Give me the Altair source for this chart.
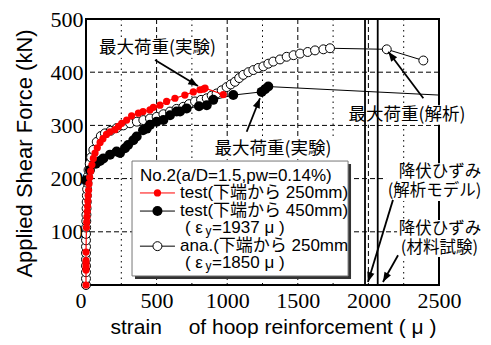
import math
import altair as alt
import pandas as pd

# ---------------- data (strain in micro, load in kN) ----------------
red_x = [0, 0, 0, 0, 0, 0, 3, 5, 7, 9, 11, 13, 15, 18, 21, 26, 33, 42, 52, 64, 80, 100, 120, 145,
         170, 205, 230, 253, 288, 323, 371, 404, 453, 477, 524, 571, 630, 700, 760, 807, 831, 843, 972]
red_y = [0, 28, 34, 40, 46, 62, 108, 118, 128, 138, 148, 158, 168, 178, 190, 202, 214, 226, 238, 248,
         258, 268, 275, 283, 288, 292, 298, 304, 310, 318, 323, 326, 329, 334, 338, 345, 351, 357, 363,
         367, 368, 370, 358]

black_x = [0, 28, 70, 99, 123, 170, 217, 241, 276, 298, 335, 359, 404, 430, 453, 500, 548, 595, 642,
           666, 713, 800, 855, 901, 1043, 1244, 1268, 1291, 2500]
black_y = [197, 216, 228, 233, 238, 245, 251, 248, 257, 263, 272, 279, 291, 294, 301, 307, 310, 319,
           326, 326, 332, 336, 338, 348, 357, 363, 368, 373, 357]

white_x = [0, 0, 0, 0, 0, 0, 0, 0, 0, 1, 2, 3, 4, 5, 6, 8, 10, 13, 18, 26, 36, 52, 76, 105, 134, 175,
           217, 265, 312, 360, 406, 453, 500, 548, 595, 641, 689, 730, 772, 815, 855, 890, 925, 961,
           996, 1025, 1055, 1085, 1114, 1150, 1185, 1220, 1256, 1291, 1326, 1374, 1421, 1470, 1516,
           1570, 1622, 1681, 1728, 2130, 2389]
white_y = [0, 12, 24, 36, 48, 60, 72, 84, 96, 108, 120, 132, 144, 156, 168, 180, 192, 204, 216, 228,
           240, 254, 269, 280, 285, 290, 295, 300, 304, 307, 310, 313, 316, 321, 326, 331, 335, 340,
           345, 348, 351, 356, 360, 366, 372, 377, 382, 389, 395, 400, 404, 408, 411, 416, 420, 424,
           429, 432, 435, 438, 441, 443, 445, 443, 422]

x_ticks = [0, 500, 1000, 1500, 2000, 2500]
y_ticks = [0, 100, 200, 300, 400, 500]
grid_major_x = [500, 1000, 1500, 2000]
grid_minor_x = [250, 750, 1250, 1750, 2250]
grid_y = [100, 200, 300, 400]
yield_x = [1976, 2066]

# annotations
ann_text = ["最大荷重(実験)", "最大荷重(実験)", "最大荷重(解析)", "降伏ひずみ", "(解析モデル)", "降伏ひずみ", "(材料試験)"]
ann_x = [506, 1324, 2273, 2507, 2468, 2507, 2503]
ann_y = [445.5, 255.6, 319.5, 211.5, 176.0, 104.4, 69.0]
ann_size = [17.5, 17.5, 17.5, 16.5, 16.5, 16.5, 16.5]

bg_x = [64, 885, 1834, 2125, 2203]
bg_x2 = [949, 1771, 2720, 2819, 2819]
bg_y = [464, 274, 338, 229, 122]
bg_y2 = [427, 237, 301, 158, 52.6]

arr_x = [489, 1138, 2389, 2174, 2210]
arr_y = [423, 288, 351, 160, 56]
arr_x2 = [793, 1232, 2141, 1997, 2103]
arr_y2 = [374, 351, 438.5, 5.6, 5.6]

# legend
leg_box = dict(x=326, x2=1856, y=233, y2=17)
leg_shadow = dict(x=347, x2=1877, y=227.4, y2=11.3)
leg_row_y = [173, 139, 73]
leg_line_x = [382, 630]
leg_mark_x = 506
leg_texts = ["No.2(a/D=1.5,pw=0.14%)", "test(下端から 250mm)", "test(下端から 450mm)",
             "ana.(下端から 250mm", "( ε", "=1937 μ )", "( ε", "=1850 μ )"]
leg_text_x = [382, 666, 666, 666, 701, 892, 701, 892]
leg_text_y = [205, 173, 139, 73, 107, 107, 41.4, 41.4]
leg_sub_text = ["y", "y"]
leg_sub_x = [846, 846]
leg_sub_y = [101, 35.5]

x_title = "strain　 of hoop reinforcement ( μ )"
y_title = "Applied Shear Force (kN)"

# ---------------- styling ----------------
SANS = "Liberation Sans, Arial, Noto Sans CJK JP, sans-serif"
CJK = "Noto Sans CJK JP"
SERIF = "Liberation Serif, Times New Roman, DejaVu Serif, serif"
PX_X = 353 / 2500.0
PX_Y = 266 / 500.0

xscale = alt.Scale(domain=[0, 2500], nice=False, zero=False)
yscale = alt.Scale(domain=[0, 500], nice=False, zero=False)

xaxis = alt.Axis(values=x_ticks, grid=False, ticks=False, domain=False, labelFont=SERIF,
                 labelFontSize=22, labelColor="black", labelPadding=5, labelFlush=False,
                 labelOverlap=False, format="d",
                 labelAlign=alt.condition("datum.value == 0", alt.value("right"), alt.value("center")),
                 title=x_title, titleFont=SANS, titleFontSize=21, titleFontWeight="normal",
                 titleColor="black", titleX=187, titleY=42, titleAlign="center",
                 titleBaseline="middle")
yaxis = alt.Axis(values=y_ticks, grid=False, ticks=False, domain=False, labelFont=SERIF,
                 labelFontSize=22, labelColor="black", labelPadding=3, labelFlush=False,
                 labelOverlap=False, format="d", labelExpr="datum.value == 0 ? '' : datum.label",
                 title=y_title, titleFont=SANS, titleFontSize=22, titleFontWeight="normal",
                 titleColor="black", titleAngle=270, titleX=-62, titleY=134,
                 titleAlign="center", titleBaseline="middle")

X = alt.X("x:Q", scale=xscale, axis=xaxis)
Y = alt.Y("y:Q", scale=yscale, axis=yaxis)
X2 = alt.X2("x2:Q")
Y2 = alt.Y2("y2:Q")


def series_df(xs, ys):
    return pd.DataFrame({"x": xs, "y": ys, "i": list(range(len(xs)))})


layers = []

# grid
layers.append(alt.Chart(pd.DataFrame({"x": grid_major_x})).mark_rule(
    color="black", strokeWidth=1, strokeDash=[5, 3]).encode(x=X))
layers.append(alt.Chart(pd.DataFrame({"x": grid_minor_x})).mark_rule(
    color="black", strokeWidth=1, strokeDash=[1.5, 4]).encode(x=X))
layers.append(alt.Chart(pd.DataFrame({"y": grid_y})).mark_rule(
    color="black", strokeWidth=1, strokeDash=[5, 3]).encode(y=Y))

# annotation backgrounds
bg = pd.DataFrame({"x": bg_x, "x2": bg_x2, "y": bg_y, "y2": bg_y2})
layers.append(alt.Chart(bg).mark_rect(fill="white").encode(x=X, x2=X2, y=Y, y2=Y2))

# yield strain lines
layers.append(alt.Chart(pd.DataFrame({"x": yield_x})).mark_rule(
    color="black", strokeWidth=1.8).encode(x=X))

# series
wdf = series_df(white_x, white_y)
layers.append(alt.Chart(wdf).mark_line(color="black", strokeWidth=1).encode(
    x=X, y=Y, order="i:Q"))
layers.append(alt.Chart(wdf).mark_circle(size=80, fill="white", stroke="black", strokeWidth=1,
                                         opacity=1).encode(x=X, y=Y))

bdf = series_df(black_x, black_y)
layers.append(alt.Chart(bdf).mark_line(color="black", strokeWidth=1).encode(
    x=X, y=Y, order="i:Q"))
layers.append(alt.Chart(bdf.iloc[:-1]).mark_circle(size=100, color="black", opacity=1).encode(
    x=X, y=Y))

rdf = series_df(red_x, red_y)
layers.append(alt.Chart(rdf).mark_line(color="red", strokeWidth=1.2).encode(
    x=X, y=Y, order="i:Q"))
layers.append(alt.Chart(rdf).mark_circle(size=52, color="red", opacity=1).encode(x=X, y=Y))

# arrows
angles = []
for x1, y1, x2, y2 in zip(arr_x, arr_y, arr_x2, arr_y2):
    a = math.degrees(math.atan2((x2 - x1) * PX_X, (y2 - y1) * PX_Y)) % 360
    angles.append(a)
adf = pd.DataFrame({"x": arr_x, "y": arr_y, "x2": arr_x2, "y2": arr_y2})
layers.append(alt.Chart(adf).mark_rule(color="black", strokeWidth=1.8).encode(
    x=X, y=Y, x2=X2, y2=Y2))
hdf = pd.DataFrame({"x": arr_x2, "y": arr_y2, "a": angles})
layers.append(alt.Chart(hdf).mark_point(shape="M0,0L0.38,1L-0.38,1Z", filled=True, color="black",
                                        size=380, opacity=1, strokeWidth=0).encode(
    x=X, y=Y, angle=alt.Angle("a:Q", scale=None)))

# annotation text
tdf = pd.DataFrame({"x": ann_x, "y": ann_y, "t": ann_text, "s": ann_size})
layers.append(alt.Chart(tdf).mark_text(font=CJK, color="black", align="center",
                                       baseline="middle").encode(
    x=X, y=Y, text="t:N", size=alt.Size("s:Q", scale=None)))

# legend
layers.append(alt.Chart(pd.DataFrame([leg_shadow])).mark_rect(fill="#333333").encode(
    x=X, x2=X2, y=Y, y2=Y2))
layers.append(alt.Chart(pd.DataFrame([leg_box])).mark_rect(fill="white", stroke="#777777",
                                                           strokeWidth=1).encode(
    x=X, x2=X2, y=Y, y2=Y2))
leg_colors = ["red", "black", "black"]
for ry, col, kind in zip(leg_row_y, leg_colors, ["red", "black", "white"]):
    ldf = pd.DataFrame({"x": [leg_line_x[0]], "x2": [leg_line_x[1]], "y": [ry]})
    layers.append(alt.Chart(ldf).mark_rule(color=col, strokeWidth=1).encode(x=X, x2=X2, y=Y))
    mdf = pd.DataFrame({"x": [leg_mark_x], "y": [ry]})
    if kind == "red":
        m = alt.Chart(mdf).mark_circle(size=52, color="red", opacity=1)
    elif kind == "black":
        m = alt.Chart(mdf).mark_circle(size=100, color="black", opacity=1)
    else:
        m = alt.Chart(mdf).mark_circle(size=80, fill="white", stroke="black", strokeWidth=1,
                                       opacity=1)
    layers.append(m.encode(x=X, y=Y))

ltdf = pd.DataFrame({"x": leg_text_x, "y": leg_text_y, "t": leg_texts})
layers.append(alt.Chart(ltdf).mark_text(font=SANS, fontSize=17, color="black", align="left",
                                        baseline="middle").encode(x=X, y=Y, text="t:N"))
lsdf = pd.DataFrame({"x": leg_sub_x, "y": leg_sub_y, "t": leg_sub_text})
layers.append(alt.Chart(lsdf).mark_text(font=SANS, fontSize=12, color="black", align="left",
                                        baseline="middle").encode(x=X, y=Y, text="t:N"))

chart = alt.layer(*layers).properties(
    width=353, height=266,
    autosize=alt.AutoSizeParams(type="none"),
    padding={"left": 78, "top": 11, "right": 44, "bottom": 54},
    background="white",
).configure_view(stroke="black", strokeWidth=2)

chart.save("out.html", embed_options={"renderer": "svg", "actions": False})
